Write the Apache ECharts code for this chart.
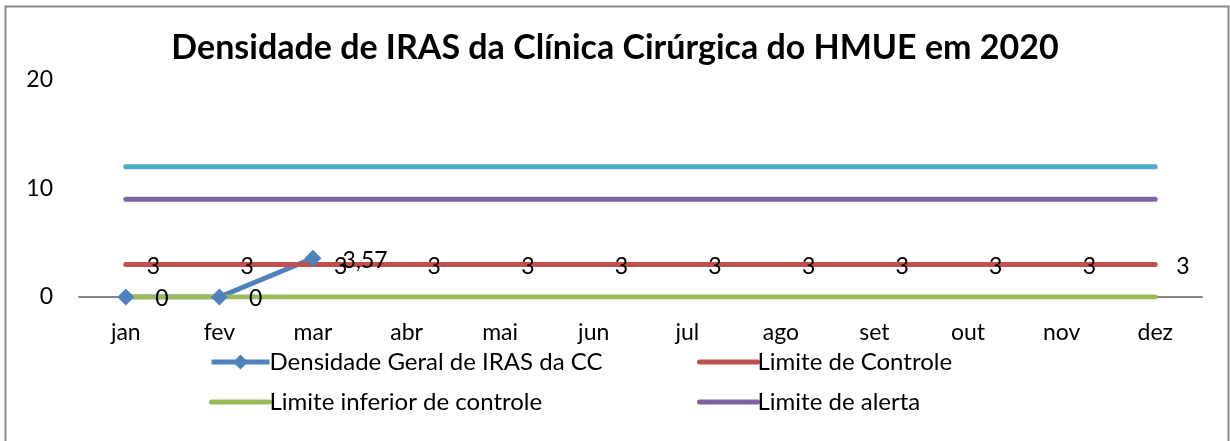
<!DOCTYPE html>
<html>
<head>
<meta charset="utf-8">
<script src="https://cdn.jsdelivr.net/npm/echarts@6/dist/echarts.min.js"></script>
<style>html,body{margin:0;padding:0;background:#fff}#c{width:1230px;height:441px}</style>
</head>
<body>
<div id="c"></div>
<script>
const titleText = 'Densidade de IRAS da Clínica Cirúrgica do HMUE em 2020';
const months = ['jan','fev','mar','abr','mai','jun','jul','ago','set','out','nov','dez'];
const densidade = [0, 0, 3.57, null, null, null, null, null, null, null, null, null];
const limiteControle = [3,3,3,3,3,3,3,3,3,3,3,3];
const limiteInferior = [0,0,0,0,0,0,0,0,0,0,0,0];
const limiteAlerta = [9,9,9,9,9,9,9,9,9,9,9,9];
const limiteSuperior = [12,12,12,12,12,12,12,12,12,12,12,12];
const yTicks = {min: 0, max: 20, interval: 10};

const FONT = 'Lato, "Open Sans", sans-serif';
const chart = echarts.init(document.getElementById('c'));
const fmt = p => (p.value === null || p.value === undefined) ? '' : String(p.value).replace('.', ',');
const lbl = {show: true, position: 'right', distance: 21, offset: [0, 2], color: '#000', fontSize: 23, fontFamily: FONT, formatter: fmt};
const flat = (name, data, color, showLabel) => ({
  name, type: 'line', data, symbol: 'circle', symbolSize: 0, showSymbol: true,
  itemStyle: {color}, lineStyle: {color, width: 5, cap: 'round'},
  label: showLabel ? lbl : {show: false}, animation: false, silent: true
});
const legText = {fontFamily: FONT, fontSize: 24, color: '#000', padding: [0,0,0,-5]};
chart.setOption({
  animation: false,
  title: {text: titleText, left: 'center', top: 26, textStyle: {fontFamily: FONT, fontSize: 34, fontWeight: 'bold', color: '#000'}},
  graphic: [{type: 'rect', shape: {x: 5.5, y: 6.5, width: 1223, height: 470}, style: {fill: 'none', stroke: '#8a8a8a', lineWidth: 2}, silent: true}],
  legend: [
    {orient: 'vertical', left: 204, top: 345, itemWidth: 58, itemHeight: 19, itemGap: 16,
     textStyle: legText,
     data: [{name: 'Densidade Geral de IRAS da CC', lineStyle: {width: 5}},
            {name: 'Limite inferior de controle', itemStyle: {opacity: 0}, lineStyle: {width: 5}}]},
    {orient: 'vertical', left: 692, top: 345, itemWidth: 58, itemHeight: 19, itemGap: 16,
     textStyle: legText,
     data: [{name: 'Limite de Controle', itemStyle: {opacity: 0}, lineStyle: {width: 5}},
            {name: 'Limite de alerta', itemStyle: {opacity: 0}, lineStyle: {width: 5}}]}
  ],
  grid: {left: 79, right: 28, top: 80, bottom: 144, containLabel: false},
  xAxis: {type: 'category', data: months, boundaryGap: true,
    axisLine: {show: true, lineStyle: {color: '#868686', width: 2}}, axisTick: {show: false},
    axisLabel: {color: '#000', fontSize: 23, fontFamily: FONT, margin: 24}},
  yAxis: {type: 'value', min: yTicks.min, max: yTicks.max, interval: yTicks.interval,
    axisLine: {show: false}, axisTick: {show: false}, splitLine: {show: false},
    axisLabel: {color: '#000', fontSize: 23, fontFamily: FONT, margin: 26}},
  series: [
    {name: 'Densidade Geral de IRAS da CC', type: 'line', data: densidade, symbol: 'diamond', symbolSize: 17,
     itemStyle: {color: '#4F81BD'}, lineStyle: {color: '#4F81BD', width: 5}, label: lbl, connectNulls: false},
    flat('Limite de Controle', limiteControle, '#C0504D', true),
    flat('Limite inferior de controle', limiteInferior, '#9BBB59', false),
    flat('Limite de alerta', limiteAlerta, '#8064A2', false),
    flat('Limite superior', limiteSuperior, '#4BACC6', false)
  ]
});
</script>
</body>
</html>
